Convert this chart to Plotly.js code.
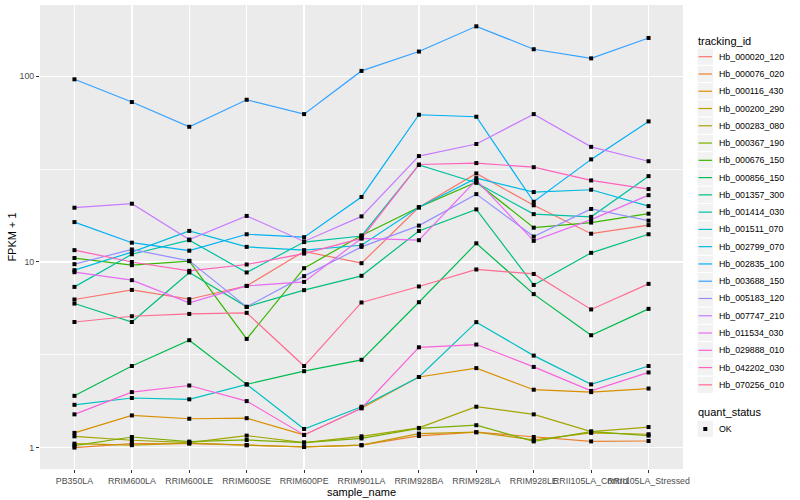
<!DOCTYPE html>
<html><head><meta charset="utf-8">
<script src="https://cdn.plot.ly/plotly-3.0.1.min.js"></script>
<style>html,body{margin:0;padding:0;background:#fff}#chart{width:800px;height:500px}</style>
</head><body><div id="chart"></div>
<script>
// Categories (x axis)
const samples = ["PB350LA","RRIM600LA","RRIM600LE","RRIM600SE","RRIM600PE","RRIM901LA",
                 "RRIM928BA","RRIM928LA","RRIM928LE","RRII105LA_Control","RRII105LA_Stressed"];

// FPKM + 1 values per tracking_id
const Hb_000020_120 = [6.28, 7.07, 6.30, 7.43, 11.4, 9.85, 19.7, 30.0, 20.2, 14.2, 15.8];
const Hb_000076_020 = [1.00, 1.05, 1.05, 1.03, 1.01, 1.03, 1.155, 1.21, 1.14, 1.08, 1.085];
const Hb_000116_430 = [1.20, 1.49, 1.43, 1.44, 1.17, 1.63, 2.40, 2.68, 2.05, 1.99, 2.08];
const Hb_000200_290 = [1.05, 1.03, 1.058, 1.03, 1.007, 1.03, 1.19, 1.21, 1.10, 1.20, 1.18];
const Hb_000283_080 = [1.15, 1.095, 1.064, 1.16, 1.064, 1.15, 1.276, 1.66, 1.51, 1.22, 1.29];
const Hb_000367_190 = [1.025, 1.14, 1.077, 1.099, 1.064, 1.12, 1.27, 1.32, 1.08, 1.22, 1.16];
const Hb_000676_150 = [10.5, 9.61, 10.1, 3.85, 9.26, 13.9, 19.7, 26.9, 15.3, 16.3, 18.2];
const Hb_000856_150 = [1.90, 2.75, 3.79, 2.19, 2.58, 2.97, 6.07, 12.6, 6.71, 4.03, 5.59];
const Hb_001357_300 = [5.97, 4.75, 8.78, 5.73, 7.05, 8.42, 14.7, 19.2, 7.52, 11.2, 14.1];
const Hb_001414_030 = [7.34, 11.0, 13.1, 8.78, 12.8, 13.8, 33.3, 26.7, 18.1, 17.5, 29.0];
const Hb_001511_070 = [1.70, 1.85, 1.82, 2.19, 1.26, 1.66, 2.40, 4.74, 3.13, 2.19, 2.75];
const Hb_002799_070 = [9.03, 11.3, 14.7, 12.06, 11.58, 12.3, 19.7, 28.3, 23.8, 24.5, 20.0];
const Hb_002835_100 = [16.4, 12.7, 11.5, 14.1, 13.6, 22.4, 62.1, 60.6, 21.1, 35.7, 57.2];
const Hb_003688_150 = [96.4, 72.7, 53.5, 74.8, 62.6, 107, 136, 186, 140, 125, 161];
const Hb_005183_120 = [9.73, 11.68, 10.14, 5.73, 8.39, 12.06, 15.7, 23.2, 13.7, 19.3, 16.7];
const Hb_007747_210 = [19.6, 20.6, 13.2, 17.7, 12.9, 17.6, 37.2, 43.2, 62.6, 41.7, 34.9];
const Hb_011534_030 = [8.81, 7.98, 6.02, 7.43, 7.81, 13.4, 13.1, 27.6, 13.0, 16.9, 22.9];
const Hb_029888_010 = [1.51, 1.99, 2.16, 1.78, 1.17, 1.63, 3.47, 3.59, 2.72, 2.02, 2.54];
const Hb_042202_030 = [11.58, 10.0, 8.96, 9.69, 11.1, 13.4, 33.5, 34.1, 32.4, 27.5, 24.7];
const Hb_070256_010 = [4.75, 5.10, 5.25, 5.32, 2.75, 6.05, 7.38, 9.11, 8.62, 5.55, 7.62];

const trackingIds = ["Hb_000020_120","Hb_000076_020","Hb_000116_430","Hb_000200_290","Hb_000283_080",
  "Hb_000367_190","Hb_000676_150","Hb_000856_150","Hb_001357_300","Hb_001414_030","Hb_001511_070",
  "Hb_002799_070","Hb_002835_100","Hb_003688_150","Hb_005183_120","Hb_007747_210","Hb_011534_030",
  "Hb_029888_010","Hb_042202_030","Hb_070256_010"];
const seriesValues = [Hb_000020_120,Hb_000076_020,Hb_000116_430,Hb_000200_290,Hb_000283_080,
  Hb_000367_190,Hb_000676_150,Hb_000856_150,Hb_001357_300,Hb_001414_030,Hb_001511_070,
  Hb_002799_070,Hb_002835_100,Hb_003688_150,Hb_005183_120,Hb_007747_210,Hb_011534_030,
  Hb_029888_010,Hb_042202_030,Hb_070256_010];
const seriesColors = ["#F8766D","#EA8331","#D89000","#C09B00","#A3A500","#7CAE00","#39B600","#00BB4E",
  "#00BF7D","#00C1A3","#00BFC4","#00BAE0","#00B0F6","#35A2FF","#9590FF","#C77CFF","#E76BF3",
  "#FA62DB","#FF62BC","#FF6C91"];
const quantStatus = "OK";

const traces = trackingIds.map((id, i) => ({
  type: 'scatter', mode: 'lines', name: id, x: samples, y: seriesValues[i],
  line: {color: seriesColors[i], width: 1.2}, showlegend: false, hoverinfo: 'name+y'
}));
// all points drawn on top
const px = [], py = [];
seriesValues.forEach(v => v.forEach((val, j) => { px.push(samples[j]); py.push(val); }));
traces.push({
  type: 'scatter', mode: 'markers', name: quantStatus, x: px, y: py,
  marker: {color: 'black', symbol: 'square', size: 4}, showlegend: false
});

// ---- page geometry (ggplot-style legend drawn in paper coordinates) ----
const W = 800, H = 500, M = {l: 40, r: 117, t: 5, b: 31};
const plotW = W - M.l - M.r, plotH = H - M.t - M.b;
const pxX = p => (p - M.l) / plotW;
const pxY = p => (H - M.b - p) / plotH;

const shapes = [], annotations = [];
const keyX0 = 697, keyX1 = 713.5, keyH = 17.27, firstKeyY = 56.7, labelX = 716.5;
annotations.push({xref: 'paper', yref: 'paper', x: pxX(695.5), y: pxY(40.7), xanchor: 'left', yanchor: 'middle',
  text: 'tracking_id', showarrow: false, font: {size: 11, color: 'black'}});
trackingIds.forEach((id, i) => {
  const yc = firstKeyY + i * keyH;
  shapes.push({type: 'rect', xref: 'paper', yref: 'paper', x0: pxX(keyX0), x1: pxX(keyX1),
    y0: pxY(yc - keyH / 2), y1: pxY(yc + keyH / 2), fillcolor: '#F2F2F2', line: {color: 'white', width: 1}, layer: 'above'});
  shapes.push({type: 'line', xref: 'paper', yref: 'paper', x0: pxX(keyX0 + 1.5), x1: pxX(keyX1 - 1.5),
    y0: pxY(yc), y1: pxY(yc), line: {color: seriesColors[i], width: 1.2}, layer: 'above'});
  annotations.push({xref: 'paper', yref: 'paper', x: pxX(labelX), y: pxY(yc), xanchor: 'left', yanchor: 'middle',
    text: id, showarrow: false, font: {size: 8.8, color: 'black'}});
});
const qTitleY = 412.3, qKeyY = 429;
annotations.push({xref: 'paper', yref: 'paper', x: pxX(695.5), y: pxY(qTitleY), xanchor: 'left', yanchor: 'middle',
  text: 'quant_status', showarrow: false, font: {size: 11, color: 'black'}});
shapes.push({type: 'rect', xref: 'paper', yref: 'paper', x0: pxX(keyX0), x1: pxX(keyX1),
  y0: pxY(qKeyY - keyH / 2), y1: pxY(qKeyY + keyH / 2), fillcolor: '#F2F2F2', line: {color: 'white', width: 1}, layer: 'above'});
shapes.push({type: 'rect', xref: 'paper', yref: 'paper', x0: pxX(703.3), x1: pxX(707.3),
  y0: pxY(qKeyY - 2), y1: pxY(qKeyY + 2), fillcolor: 'black', line: {width: 0}, layer: 'above'});
annotations.push({xref: 'paper', yref: 'paper', x: pxX(labelX), y: pxY(qKeyY), xanchor: 'left', yanchor: 'middle',
  text: quantStatus, showarrow: false, font: {size: 8.8, color: 'black'}});

const layout = {
  width: W, height: H,
  margin: {l: M.l, r: M.r, t: M.t, b: M.b, pad: 0},
  paper_bgcolor: 'white', plot_bgcolor: '#EBEBEB',
  font: {family: '"Liberation Sans", Arial, sans-serif', size: 11, color: 'black'},
  showlegend: false,
  xaxis: {
    type: 'category', categoryorder: 'array', categoryarray: samples, range: [-0.6, 10.6],
    showgrid: true, gridcolor: 'white', gridwidth: 1.4, zeroline: false, showline: false,
    ticks: 'outside', ticklen: 3, tickwidth: 1, tickcolor: '#333333', tickangle: 0,
    tickfont: {size: 8.8, color: '#4D4D4D'},
    title: {text: 'sample_name', font: {size: 11, color: 'black'}, standoff: 3}
  },
  yaxis: {
    type: 'log', range: [-0.1154, 2.3844], tickmode: 'array', tickvals: [1, 10, 100], ticktext: ['1', '10', '100'],
    showgrid: true, gridcolor: 'white', gridwidth: 1.4, zeroline: false, showline: false,
    ticks: 'outside', ticklen: 3, tickwidth: 1, tickcolor: '#333333',
    tickfont: {size: 8.8, color: '#4D4D4D'},
    minor: {tickmode: 'array', tickvals: [3.1623, 31.623], showgrid: true, gridcolor: 'white', gridwidth: 0.7, ticks: ''},
    title: {text: 'FPKM + 1', font: {size: 11, color: 'black'}, standoff: 0}
  },
  shapes: shapes,
  annotations: annotations
};
Plotly.newPlot('chart', traces, layout, {displayModeBar: false, staticPlot: true});
</script></body></html>
